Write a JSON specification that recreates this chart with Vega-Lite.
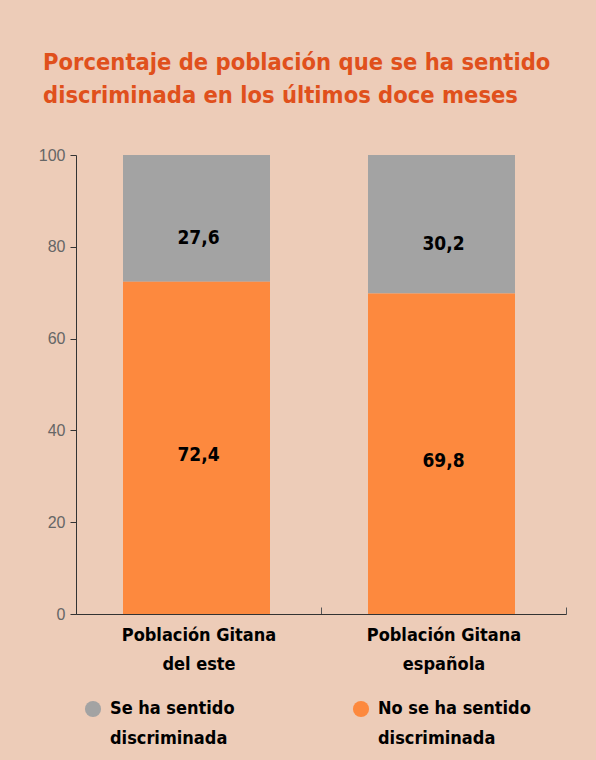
{
  "$schema": "https://vega.github.io/schema/vega-lite/v6.json",
  "autosize": "none",
  "width": 490,
  "height": 459,
  "padding": {"left": 76, "top": 155, "right": 30, "bottom": 146},
  "background": "#edccb8",
  "title": {
    "text": ["Porcentaje de población que se ha sentido", "discriminada en los últimos doce meses"],
    "anchor": "start",
    "frame": "group",
    "dx": -33,
    "offset": 40,
    "font": "DejaVu Sans Condensed, sans-serif",
    "fontSize": 23.5,
    "fontWeight": "bold",
    "color": "#e0501c",
    "lineHeight": 33
  },
  "config": {
    "view": {"stroke": null},
    "locale": {
      "number": {"decimal": ",", "thousands": ".", "grouping": [3], "currency": ["", " €"]}
    }
  },
  "data": {
    "values": [
      {"poblacion": "Población Gitana del este", "grupo": "Se ha sentido discriminada", "valor": 27.6},
      {"poblacion": "Población Gitana del este", "grupo": "No se ha sentido discriminada", "valor": 72.4},
      {"poblacion": "Población Gitana española", "grupo": "Se ha sentido discriminada", "valor": 30.2},
      {"poblacion": "Población Gitana española", "grupo": "No se ha sentido discriminada", "valor": 69.8}
    ]
  },
  "encoding": {
    "x": {
      "field": "poblacion",
      "type": "nominal",
      "sort": null,
      "scale": {"paddingInner": 0, "paddingOuter": 0},
      "axis": {
        "title": null,
        "labelAngle": 0,
        "labelExpr": "[slice(datum.label, 0, 16), slice(datum.label, 17)]",
        "labelFont": "DejaVu Sans Condensed, sans-serif",
        "labelFontSize": 18,
        "labelFontWeight": "bold",
        "labelColor": "#000000",
        "labelLineHeight": 29,
        "labelPadding": 19,
        "labelLimit": 300,
        "domainColor": "#333333",
        "tickColor": "#555555",
        "tickBand": "extent",
        "tickSize": -7
      }
    },
    "y": {
      "field": "valor",
      "type": "quantitative",
      "stack": "zero",
      "scale": {"domain": [0, 100], "nice": false},
      "axis": {
        "title": null,
        "values": [0, 20, 40, 60, 80, 100],
        "grid": false,
        "labelFont": "Liberation Sans, sans-serif",
        "labelFontSize": 16,
        "labelColor": "#666666",
        "labelPadding": 5,
        "domainColor": "#333333",
        "tickColor": "#333333",
        "tickSize": 6
      }
    },
    "order": {"field": "grupo", "sort": "ascending"}
  },
  "layer": [
    {
      "mark": {"type": "bar", "width": {"band": 0.6}, "xOffset": -2},
      "encoding": {
        "color": {
          "field": "grupo",
          "type": "nominal",
          "scale": {
            "domain": ["Se ha sentido discriminada", "No se ha sentido discriminada"],
            "range": ["#a3a3a3", "#fd893e"]
          },
          "legend": {
            "title": null,
            "orient": "none",
            "legendX": 8,
            "legendY": 545,
            "direction": "horizontal",
            "columns": 2,
            "columnPadding": 117,
            "symbolType": "circle",
            "symbolSize": 260,
            "symbolStrokeWidth": 0,
            "labelExpr": "[slice(datum.label, 0, length(datum.label) - 13), 'discriminada']",
            "labelFont": "DejaVu Sans Condensed, sans-serif",
            "labelFontSize": 18,
            "labelFontWeight": "bold",
            "labelColor": "#000000",
            "labelLimit": 300,
            "labelOffset": 8,
            "encode": {
              "symbols": {
                "update": {
                  "fill": {"signal": "datum.value == 'Se ha sentido discriminada' ? '#9f9f9f' : '#e8775b'"},
                  "opacity": {"value": 1}
                }
              },
              "labels": {"update": {"lineHeight": {"value": 30}}}
            }
          }
        }
      }
    },
    {
      "mark": {
        "type": "text",
        "font": "DejaVu Sans Condensed, sans-serif",
        "fontSize": 19,
        "fontWeight": "bold",
        "color": "#000000",
        "dy": 20
      },
      "encoding": {
        "y": {"field": "valor", "type": "quantitative", "stack": "zero", "bandPosition": 0.5},
        "text": {
          "condition": {"test": "datum.grupo == 'No se ha sentido discriminada'", "value": ""},
          "field": "valor",
          "type": "quantitative",
          "format": ".1f"
        }
      }
    },
    {
      "mark": {
        "type": "text",
        "font": "DejaVu Sans Condensed, sans-serif",
        "fontSize": 19,
        "fontWeight": "bold",
        "color": "#000000",
        "dy": 7
      },
      "encoding": {
        "y": {"field": "valor", "type": "quantitative", "stack": "zero", "bandPosition": 0.5},
        "text": {
          "condition": {"test": "datum.grupo == 'Se ha sentido discriminada'", "value": ""},
          "field": "valor",
          "type": "quantitative",
          "format": ".1f"
        }
      }
    }
  ]
}
